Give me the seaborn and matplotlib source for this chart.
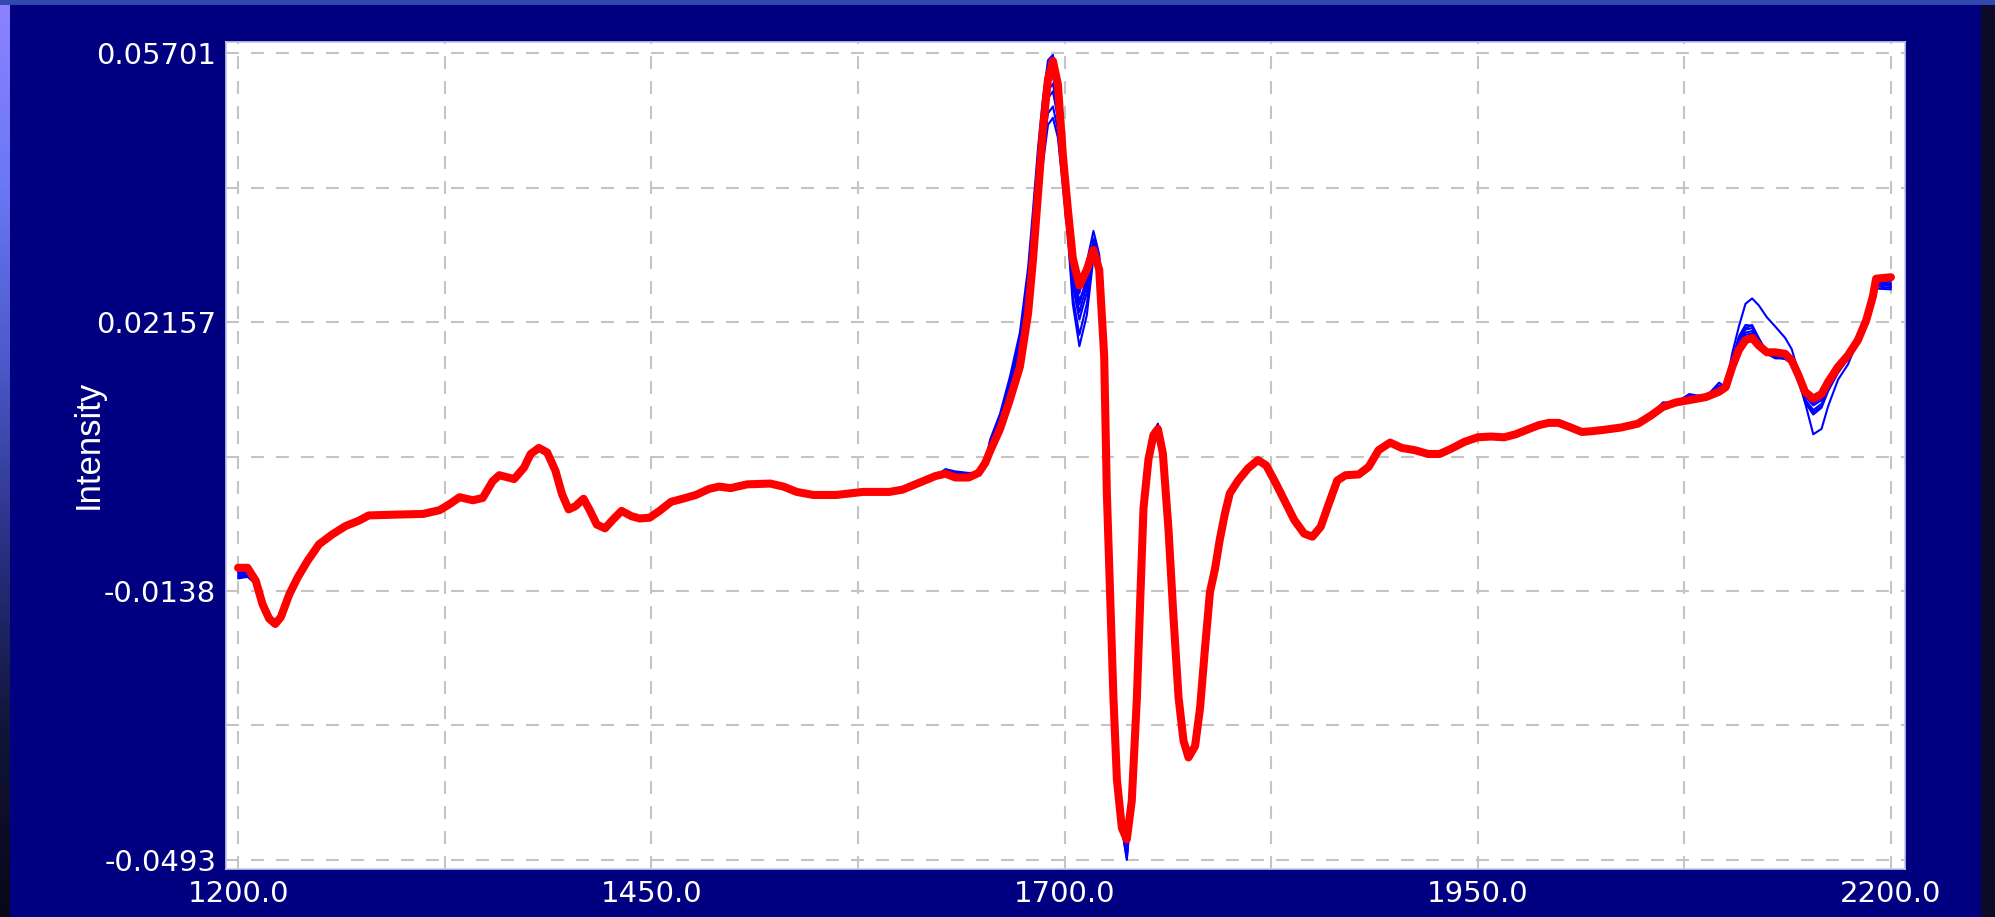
import numpy as np
import pandas as pd
import matplotlib
matplotlib.use("Agg")
import matplotlib.pyplot as plt
from matplotlib import font_manager as fm
from matplotlib.colors import LinearSegmentedColormap
from matplotlib.ticker import FixedLocator, NullFormatter
import seaborn as sns

# ---- spectrum data -------------------------------------------------------
wavenumber = [
    1200, 1205.7, 1210.7, 1214.8, 1218.8, 1222.5, 1225.9, 1231, 1236, 1242,
    1249, 1257, 1265, 1273, 1279, 1294, 1312, 1322, 1328, 1334,
    1342, 1348, 1354, 1358, 1367, 1373, 1377, 1382, 1387, 1392,
    1396, 1400, 1404, 1409, 1413, 1417, 1422, 1427, 1432, 1438,
    1443, 1449, 1455, 1462, 1469, 1477, 1485, 1491, 1498, 1508,
    1522, 1530, 1538, 1548, 1562, 1578, 1594, 1602, 1612, 1622,
    1628, 1634, 1642, 1648, 1652, 1655, 1661, 1667, 1673, 1678,
    1681, 1684, 1687, 1690, 1693, 1696, 1699, 1702, 1705, 1709,
    1713.5, 1717.5, 1721, 1724, 1725.6, 1727.6, 1729.6, 1731.7, 1734.7, 1737.7,
    1740.7, 1743.8, 1745.8, 1747.8, 1750.8, 1753.8, 1756.5, 1759.5, 1762.9, 1765.9,
    1769, 1772, 1775, 1779, 1782, 1785, 1788, 1791, 1794, 1797,
    1800, 1805, 1811, 1817, 1822, 1827, 1833, 1839, 1845, 1850,
    1855, 1860, 1865, 1870, 1878, 1884, 1890, 1897, 1904, 1912,
    1920, 1927, 1934, 1942, 1950, 1958, 1966, 1973, 1981, 1987,
    1993, 1999, 2005, 2013, 2019, 2027, 2037, 2047, 2055, 2062,
    2070, 2078, 2088, 2096, 2100, 2104, 2108, 2112, 2116, 2120,
    2125, 2130, 2136, 2140, 2144, 2148, 2153, 2158, 2162, 2168,
    2174, 2180, 2185, 2189, 2191, 2200,
]

mean_spectrum = [
    -0.0108, -0.0108, -0.0125, -0.0156, -0.0175, -0.0182, -0.0173, -0.0143, -0.0121, -0.0099,
    -0.0077, -0.0064, -0.0053, -0.0046, -0.0039, -0.0038, -0.0037, -0.0032, -0.0024, -0.0015,
    -0.0019, -0.0016, 0.0006, 0.0014, 0.0009, 0.0024, 0.0042, 0.0050, 0.0044, 0.0020,
    -0.0011, -0.0031, -0.0027, -0.0017, -0.0033, -0.0051, -0.0056, -0.0044, -0.0033, -0.0040,
    -0.0043, -0.0042, -0.0033, -0.0021, -0.0017, -0.0012, -0.0004, -0.0001, -0.0003, 0.0002,
    0.0003, -0.0001, -0.0008, -0.0012, -0.0012, -0.0008, -0.0008, -0.0005, 0.0004, 0.0013,
    0.0016, 0.0011, 0.0011, 0.0017, 0.0030, 0.0046, 0.0075, 0.0114, 0.0157, 0.0228,
    0.0300, 0.0386, 0.0471, 0.0536, 0.0560, 0.0529, 0.0436, 0.0365, 0.0300, 0.0264,
    0.0285, 0.0311, 0.0285, 0.0171, -0.0008, -0.0144, -0.0279, -0.0387, -0.0451, -0.0466,
    -0.0415, -0.0279, -0.0151, -0.0029, 0.0035, 0.0067, 0.0075, 0.0043, -0.0057, -0.0172,
    -0.0279, -0.0336, -0.0358, -0.0343, -0.0293, -0.0214, -0.0140, -0.0110, -0.0070, -0.0037,
    -0.0010, 0.0007, 0.0023, 0.0034, 0.0027, 0.0007, -0.0019, -0.0045, -0.0063, -0.0067,
    -0.0054, -0.0023, 0.0007, 0.0014, 0.0015, 0.0025, 0.0047, 0.0057, 0.0050, 0.0047,
    0.0042, 0.0042, 0.0049, 0.0058, 0.0064, 0.0065, 0.0064, 0.0068, 0.0075, 0.0080,
    0.0083, 0.0083, 0.0078, 0.0071, 0.0072, 0.0074, 0.0077, 0.0082, 0.0093, 0.0104,
    0.0110, 0.0113, 0.0117, 0.0124, 0.0130, 0.0157, 0.0179, 0.0192, 0.0195, 0.0185,
    0.0176, 0.0176, 0.0174, 0.0165, 0.0146, 0.0124, 0.0115, 0.0121, 0.0137, 0.0157,
    0.0172, 0.0192, 0.0218, 0.0249, 0.0273, 0.0275,
]

# Individual sample spectra: differences from the mean at selected wavenumbers
low_keys = [1200, 1205.7, 1210.7, 1222.5, 1628, 1634, 1642]
low_dev = [
    [-0.0014, -0.0012, -0.0004, -0.0003, 0.0006, 0.0008, 0.0006],
    [-0.0010, -0.0010, -0.0003, -0.0002, 0.0004, 0.0006, 0.0004],
    [-0.0008, -0.0008, -0.0002, -0.0002, 0.0002, 0.0003, 0.0002],
    [-0.0006, -0.0006, -0.0002, -0.0001, 0.0000, 0.0000, 0.0000],
    [-0.0004, -0.0004, -0.0001, 0.0000, -0.0002, -0.0003, -0.0002],
    [-0.0002, -0.0002, 0.0000, 0.0000, 0.0002, 0.0002, 0.0001],
    [-0.0012, -0.0010, -0.0003, -0.0002, 0.0005, 0.0007, 0.0005],
]

peak_keys = [1655, 1661, 1667, 1673, 1678, 1681, 1684, 1687, 1690, 1693, 1696,
             1699, 1702, 1705, 1709, 1713.5, 1717.5, 1721, 1724, 1737.7, 1756.5]
peak_dev = [
    [0.0015, 0.0020, 0.0030, 0.0045, 0.0060, 0.0065, 0.0060, 0.0040, 0.0025, 0.0008, -0.0010,
     -0.0005, 0.0000, -0.0005, -0.0010, 0.0010, 0.0025, 0.0020, 0.0030, -0.0025, 0.0007],
    [0.0012, 0.0016, 0.0025, 0.0035, 0.0045, 0.0045, 0.0035, 0.0015, 0.0000, -0.0020, -0.0030,
     -0.0015, -0.0010, -0.0020, -0.0025, -0.0010, 0.0015, 0.0015, 0.0020, -0.0015, 0.0004],
    [0.0010, 0.0012, 0.0020, 0.0025, 0.0030, 0.0025, 0.0010, -0.0010, -0.0025, -0.0040, -0.0045,
     -0.0025, -0.0020, -0.0035, -0.0045, -0.0030, 0.0005, 0.0010, 0.0012, -0.0010, 0.0002],
    [0.0008, 0.0010, 0.0015, 0.0020, 0.0020, 0.0010, -0.0010, -0.0030, -0.0045, -0.0060, -0.0060,
     -0.0035, -0.0030, -0.0050, -0.0065, -0.0045, -0.0005, 0.0005, 0.0008, -0.0020, 0.0000],
    [0.0006, 0.0008, 0.0010, 0.0012, 0.0010, 0.0000, -0.0020, -0.0045, -0.0060, -0.0075, -0.0070,
     -0.0040, -0.0035, -0.0060, -0.0080, -0.0060, -0.0010, 0.0000, 0.0005, -0.0005, -0.0004],
    [0.0010, 0.0014, 0.0022, 0.0030, 0.0035, 0.0030, 0.0020, 0.0000, -0.0015, -0.0030, -0.0035,
     -0.0020, -0.0015, -0.0028, -0.0035, -0.0020, 0.0010, 0.0012, 0.0015, -0.0027, 0.0006],
    [0.0004, 0.0006, 0.0008, 0.0010, 0.0012, 0.0010, 0.0005, 0.0000, -0.0008, -0.0012, -0.0020,
     -0.0010, -0.0005, -0.0012, -0.0020, -0.0015, 0.0005, 0.0005, 0.0010, -0.0005, 0.0002],
]

high_keys = [2062, 2078, 2096, 2104, 2108, 2112, 2116, 2120, 2125, 2130, 2136,
             2140, 2144, 2148, 2153, 2158, 2162, 2168, 2174, 2191, 2200]
high_dev = [
    [0.0002, 0.0003, 0.0004, 0.0004, 0.0006, 0.0007, 0.0006, 0.0003, 0.0000, 0.0000, 0.0000,
     0.0000, -0.0002, -0.0004, -0.0006, -0.0005, -0.0003, -0.0002, 0.0000, -0.0003, -0.0005],
    [0.0002, 0.0003, 0.0004, 0.0005, 0.0009, 0.0010, 0.0009, 0.0004, 0.0000, -0.0002, -0.0002,
     -0.0001, -0.0003, -0.0006, -0.0009, -0.0008, -0.0005, -0.0003, -0.0002, -0.0005, -0.0008],
    [0.0004, 0.0005, 0.0008, 0.0008, 0.0015, 0.0016, 0.0017, 0.0010, 0.0000, -0.0006, -0.0007,
     -0.0004, -0.0008, -0.0012, -0.0018, -0.0016, -0.0010, -0.0006, -0.0004, -0.0008, -0.0010],
    [0.0004, 0.0005, 0.0008, 0.0010, 0.0018, 0.0020, 0.0016, 0.0008, -0.0002, -0.0008, -0.0006,
     -0.0002, -0.0006, -0.0014, -0.0021, -0.0018, -0.0012, -0.0008, -0.0005, -0.0010, -0.0014],
    [0.0004, 0.0005, 0.0008, 0.0006, 0.0012, 0.0014, 0.0013, 0.0006, 0.0000, -0.0004, -0.0005,
     -0.0003, -0.0006, -0.0010, -0.0015, -0.0013, -0.0008, -0.0005, -0.0003, -0.0006, -0.0012],
    [0.0006, 0.0008, 0.0012, 0.0018, 0.0031, 0.0048, 0.0052, 0.0053, 0.0046, 0.0034, 0.0021,
     0.0015, 0.0004, -0.0014, -0.0047, -0.0046, -0.0032, -0.0017, -0.0012, -0.0013, -0.0016],
    [0.0002, 0.0002, 0.0003, 0.0002, 0.0003, 0.0004, 0.0003, 0.0002, 0.0000, 0.0000, 0.0000,
     0.0000, -0.0001, -0.0002, -0.0003, -0.0002, -0.0001, 0.0000, 0.0000, -0.0002, -0.0003],
]

x_major = [1200, 1450, 1700, 1950, 2200]
x_labels = ["1200.0", "1450.0", "1700.0", "1950.0", "2200.0"]
x_minor = [1325, 1575, 1825, 2075]
y_major = [0.05701, 0.02157, -0.0138, -0.0493]
y_labels = ["0.05701", "0.02157", "-0.0138", "-0.0493"]
y_minor = [0.03929, 0.00385, -0.03158]

# ---- assemble long-form table -------------------------------------------
wn = np.array(wavenumber, dtype=float)
mean_arr = np.array(mean_spectrum, dtype=float)


def positions(keys):
    return [int(np.argmin(np.abs(wn - k))) for k in keys]


frames = []
for i in range(len(low_dev)):
    vals = mean_arr.copy()
    for keys, dev in ((low_keys, low_dev), (peak_keys, peak_dev), (high_keys, high_dev)):
        vals[positions(keys)] += np.array(dev[i])
    frames.append(pd.DataFrame({"wavenumber": wn, "intensity": vals, "sample": i}))
samples = pd.concat(frames, ignore_index=True)
mean_df = pd.DataFrame({"wavenumber": wn, "intensity": mean_arr})

# ---- figure --------------------------------------------------------------
sns.set_theme(style="white")
plt.rcParams["font.family"] = ["DejaVu Sans"]

navy = "#000080"
fig = plt.figure(figsize=(19.95, 9.17), dpi=100, facecolor=navy)

# slide frame decorations
left_cmap = LinearSegmentedColormap.from_list(
    "edge", ["#8c82ff", "#6a78f4", "#4a58c8", "#283080", "#101438", "#08081a"])
ax_l = fig.add_axes([0, 0, 10 / 1995, 1])
ax_l.imshow(np.linspace(0, 1, 256).reshape(-1, 1), aspect="auto", cmap=left_cmap)
ax_l.axis("off")
ax_r = fig.add_axes([1981 / 1995, 0, 14 / 1995, 1])
ax_r.set_facecolor("#0b0b26")
ax_r.set_xticks([]); ax_r.set_yticks([])
for s in ax_r.spines.values():
    s.set_visible(False)
ax_t = fig.add_axes([0, 1 - 5 / 917, 1, 5 / 917])
ax_t.set_facecolor("#3048b0")
ax_t.set_xticks([]); ax_t.set_yticks([])
for s in ax_t.spines.values():
    s.set_visible(False)

ax = fig.add_axes([226 / 1995, 1 - 869 / 917, 1679 / 1995, 827 / 917])
ax.set_facecolor("white")

sns.lineplot(data=samples, x="wavenumber", y="intensity", units="sample",
             estimator=None, color="#0000ff", linewidth=1.5, legend=False,
             ax=ax, zorder=3)
sns.lineplot(data=mean_df, x="wavenumber", y="intensity", color="#ff0000",
             linewidth=5.8, legend=False, ax=ax, zorder=4)

ax.set_xlim(1192.7, 2208.5)
ax.set_ylim(-0.0505, 0.0585)

ax.xaxis.set_major_locator(FixedLocator(x_major))
ax.set_xticklabels(x_labels)
ax.xaxis.set_minor_locator(FixedLocator(x_minor))
ax.xaxis.set_minor_formatter(NullFormatter())
ax.yaxis.set_major_locator(FixedLocator(y_major))
ax.set_yticklabels(y_labels)
ax.yaxis.set_minor_locator(FixedLocator(y_minor))
ax.yaxis.set_minor_formatter(NullFormatter())

grid_kw = dict(color="#c4c4c4", linewidth=1.5, linestyle=(0, (6.2, 5.8)))
ax.grid(True, which="both", axis="both", **grid_kw)
ax.set_axisbelow(True)

ax.tick_params(axis="both", which="major", direction="out", length=5, width=1.2,
               color="white", labelcolor="white", labelsize=21)
ax.tick_params(axis="x", which="major", pad=3)
ax.tick_params(axis="y", which="major", pad=2)
ax.tick_params(axis="both", which="minor", length=0)

for s in ax.spines.values():
    s.set_color("#c8c8ec")
    s.set_linewidth(1.2)

ax.set_xlabel("")
ax.set_ylabel("")

names = {f.name for f in fm.fontManager.ttflist}
if "Liberation Sans Narrow" in names:
    lab_family, lab_size = ["Liberation Sans Narrow", "DejaVu Sans"], 30
else:
    lab_family, lab_size = ["Liberation Sans", "DejaVu Sans"], 25
fig.text(88 / 1995, 1 - 444 / 917, "Intensity", rotation=90, ha="center",
         va="center", color="white", fontsize=lab_size, family=lab_family)

fig.savefig("out.png", dpi=100, facecolor=navy)
